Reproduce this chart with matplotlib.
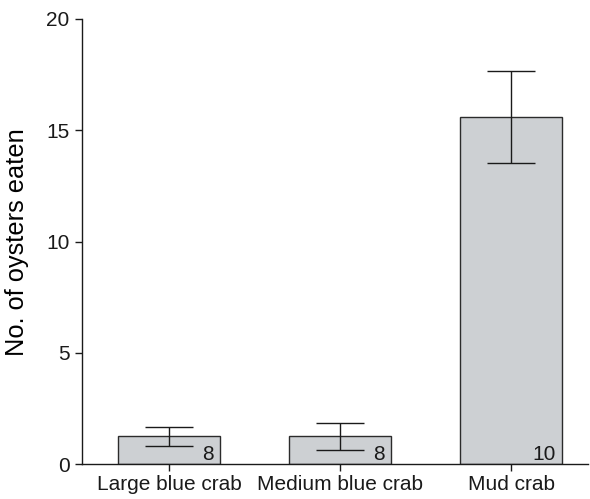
import matplotlib
matplotlib.use("Agg")
import matplotlib.pyplot as plt
import numpy as np
from matplotlib.transforms import offset_copy

plt.rcParams['font.family'] = ['Liberation Sans', 'DejaVu Sans']

categories = ["Large blue crab", "Medium blue crab", "Mud crab"]
means = [1.25, 1.25, 15.6]
errors = [0.42, 0.61, 2.05]
sample_sizes = ["8", "8", "10"]
yticks = [0, 5, 10, 15, 20]

fig = plt.figure(figsize=(5.9, 4.99), dpi=100)
ax = fig.add_axes([0.139, 0.0695, 0.8576, 0.8925])

x = np.arange(len(categories))
width = 0.6
ax.bar(x, means, width=width, color="#cdd0d3", edgecolor="#2b2b2b",
       linewidth=1.0, zorder=2)
ax.errorbar(x, means, yerr=errors, fmt="none", ecolor="#1a1a1a",
            elinewidth=1.0, capsize=17, capthick=1.0, zorder=3)

# sample size in the lower right corner of each bar
for xi, n in zip(x, sample_sizes):
    tr = offset_copy(ax.transData, fig=fig, x=-7, y=4, units="dots")
    ax.text(xi + width / 2, 0, n, ha="right", va="baseline",
            fontsize=15, color="#1a1a1a", zorder=4, transform=tr)

ax.set_xlim(-0.509, 2.45)
ax.set_ylim(0, 20)
ax.set_xticks(x)
ax.set_xticklabels(categories, fontsize=15)
ax.set_yticks(yticks)
ax.set_yticklabels([str(t) for t in yticks], fontsize=15)
ax.set_ylabel("No. of oysters eaten", fontsize=18.3, labelpad=12)

for side in ("top", "right"):
    ax.spines[side].set_visible(False)
for side in ("left", "bottom"):
    ax.spines[side].set_linewidth(1.0)
    ax.spines[side].set_color("#1a1a1a")
ax.tick_params(axis="both", length=5, width=1.0, color="#1a1a1a",
               labelcolor="#1a1a1a")
ax.tick_params(axis="x", pad=3)
ax.tick_params(axis="y", pad=4)

fig.savefig("out.png", dpi=100)
